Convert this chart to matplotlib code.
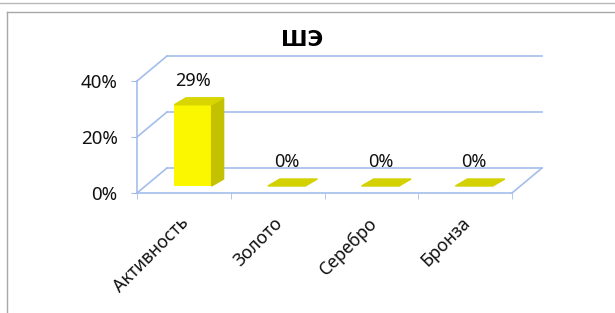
import numpy as np
import matplotlib.pyplot as plt
from matplotlib.patches import Polygon
from matplotlib.lines import Line2D
from matplotlib.transforms import ScaledTranslation

plt.rcParams['font.family'] = ['Noto Sans', 'DejaVu Sans']

# data
title = "ШЭ"
categories = ["Активность", "Золото", "Серебро", "Бронза"]
values = [0.29, 0.0, 0.0, 0.0]
value_labels = ["29%", "0%", "0%", "0%"]
yticks = [0.0, 0.2, 0.4]
ytick_labels = ["0%", "20%", "40%"]

W, H = 615, 313
fig = plt.figure(figsize=(W / 100, H / 100), dpi=100)

# front face of the plot area, in pixels of the picture
left, right, bottom, top = 137, 512, 193, 81
ax = fig.add_axes([left / W, (H - bottom) / H, (right - left) / W, (bottom - top) / H])
ax.set_xlim(-0.5, len(categories) - 0.5)
ax.set_ylim(0, 0.4)
ax.patch.set_alpha(0)

# pixel -> data unit conversion for the fake 3D depth
px_x = len(categories) / (right - left)
px_y = 0.4 / (bottom - top)

def off(dx, dy):
    return dx * px_x, dy * px_y

grid_c = '#a4bdec'
back = off(30, 25)        # back wall
bar_front = off(9, 7)     # where the bars start in depth
bar_back = off(21, 14)    # where the bars end in depth

x0, x1 = -0.5, len(categories) - 0.5
# back wall gridlines and side wall lines
for v in yticks:
    ax.add_line(Line2D([x0 + back[0], x1 + back[0]], [v + back[1], v + back[1]],
                       color=grid_c, lw=1.2, clip_on=False))
    ax.add_line(Line2D([x0, x0 + back[0]], [v, v + back[1]],
                       color=grid_c, lw=1.2, clip_on=False))
# floor right edge
ax.add_line(Line2D([x1, x1 + back[0]], [0, back[1]], color=grid_c, lw=1.2, clip_on=False))

# bars: front faces with ax.bar, side/top faces as polygons
xs = np.arange(len(categories))
w = 0.4
front_c, side_c, top_c, flat_c = '#fbf700', '#c4c200', '#d8d500', '#d4d100'
for i, v in zip(xs, values):
    l, r = i - w / 2, i + w / 2
    if v > 0:
        ax.bar(i + bar_front[0], v, width=w, bottom=bar_front[1], color=front_c,
               clip_on=False, zorder=3)
        ax.add_patch(Polygon([(r + bar_front[0], bar_front[1]), (r + bar_back[0], bar_back[1]),
                              (r + bar_back[0], v + bar_back[1]), (r + bar_front[0], v + bar_front[1])],
                             closed=True, color=side_c, clip_on=False, zorder=3))
        ax.add_patch(Polygon([(l + bar_front[0], v + bar_front[1]), (r + bar_front[0], v + bar_front[1]),
                              (r + bar_back[0], v + bar_back[1]), (l + bar_back[0], v + bar_back[1])],
                             closed=True, color=top_c, clip_on=False, zorder=3))
    else:
        ax.add_patch(Polygon([(l + bar_front[0], bar_front[1]), (r + bar_front[0], bar_front[1]),
                              (r + bar_back[0], bar_back[1]), (l + bar_back[0], bar_back[1])],
                             closed=True, color=flat_c, clip_on=False, zorder=3))

# value labels
for i, v, lab in zip(xs, values, value_labels):
    ax.annotate(lab, (i + bar_front[0], v + bar_front[1]), xytext=(0, 17),
                textcoords='offset points', ha='center', va='center', fontsize=13,
                color='#111111', annotation_clip=False)

# axes
for s in ['top', 'right']:
    ax.spines[s].set_visible(False)
ax.spines['left'].set_color(grid_c)
ax.spines['bottom'].set_color(grid_c)
ax.spines['left'].set_linewidth(1.2)
ax.spines['bottom'].set_linewidth(1.2)
ax.set_yticks(yticks)
ax.set_yticklabels(ytick_labels, fontsize=13.5, color='#111111')
ax.tick_params(axis='y', length=4, color=grid_c, pad=10)
ax.set_xticks(xs)
ax.set_xticklabels(categories, fontsize=12.8, rotation=45, ha='right',
                   rotation_mode='anchor', color='#111111')
ax.tick_params(axis='x', which='major', length=0, pad=15)
ax.set_xticks(np.arange(-0.5, len(categories)), minor=True)
ax.tick_params(axis='x', which='minor', length=4, color=grid_c)
# nudge category labels a little to the left
shift = ScaledTranslation(-4 / 100, 0, fig.dpi_scale_trans)
for lbl in ax.get_xticklabels():
    lbl.set_transform(lbl.get_transform() + shift)

fig.text(302 / W, 1 - 40 / H, title, ha='center', va='center', fontsize=15.5,
         fontweight='bold', family='DejaVu Sans', color='black')

# outer frame lines of the scanned chart box
fig.add_artist(Line2D([0, 1], [1 - 3 / H, 1 - 3 / H], color='#b8b8b8', lw=1.0))
fig.add_artist(Line2D([7 / W, 1], [1 - 12 / H, 1 - 12 / H], color='#a8a8a8', lw=1.0))
fig.add_artist(Line2D([7 / W, 7 / W], [0, 1 - 12 / H], color='#a8a8a8', lw=1.0))

fig.savefig('out.png', dpi=100)
